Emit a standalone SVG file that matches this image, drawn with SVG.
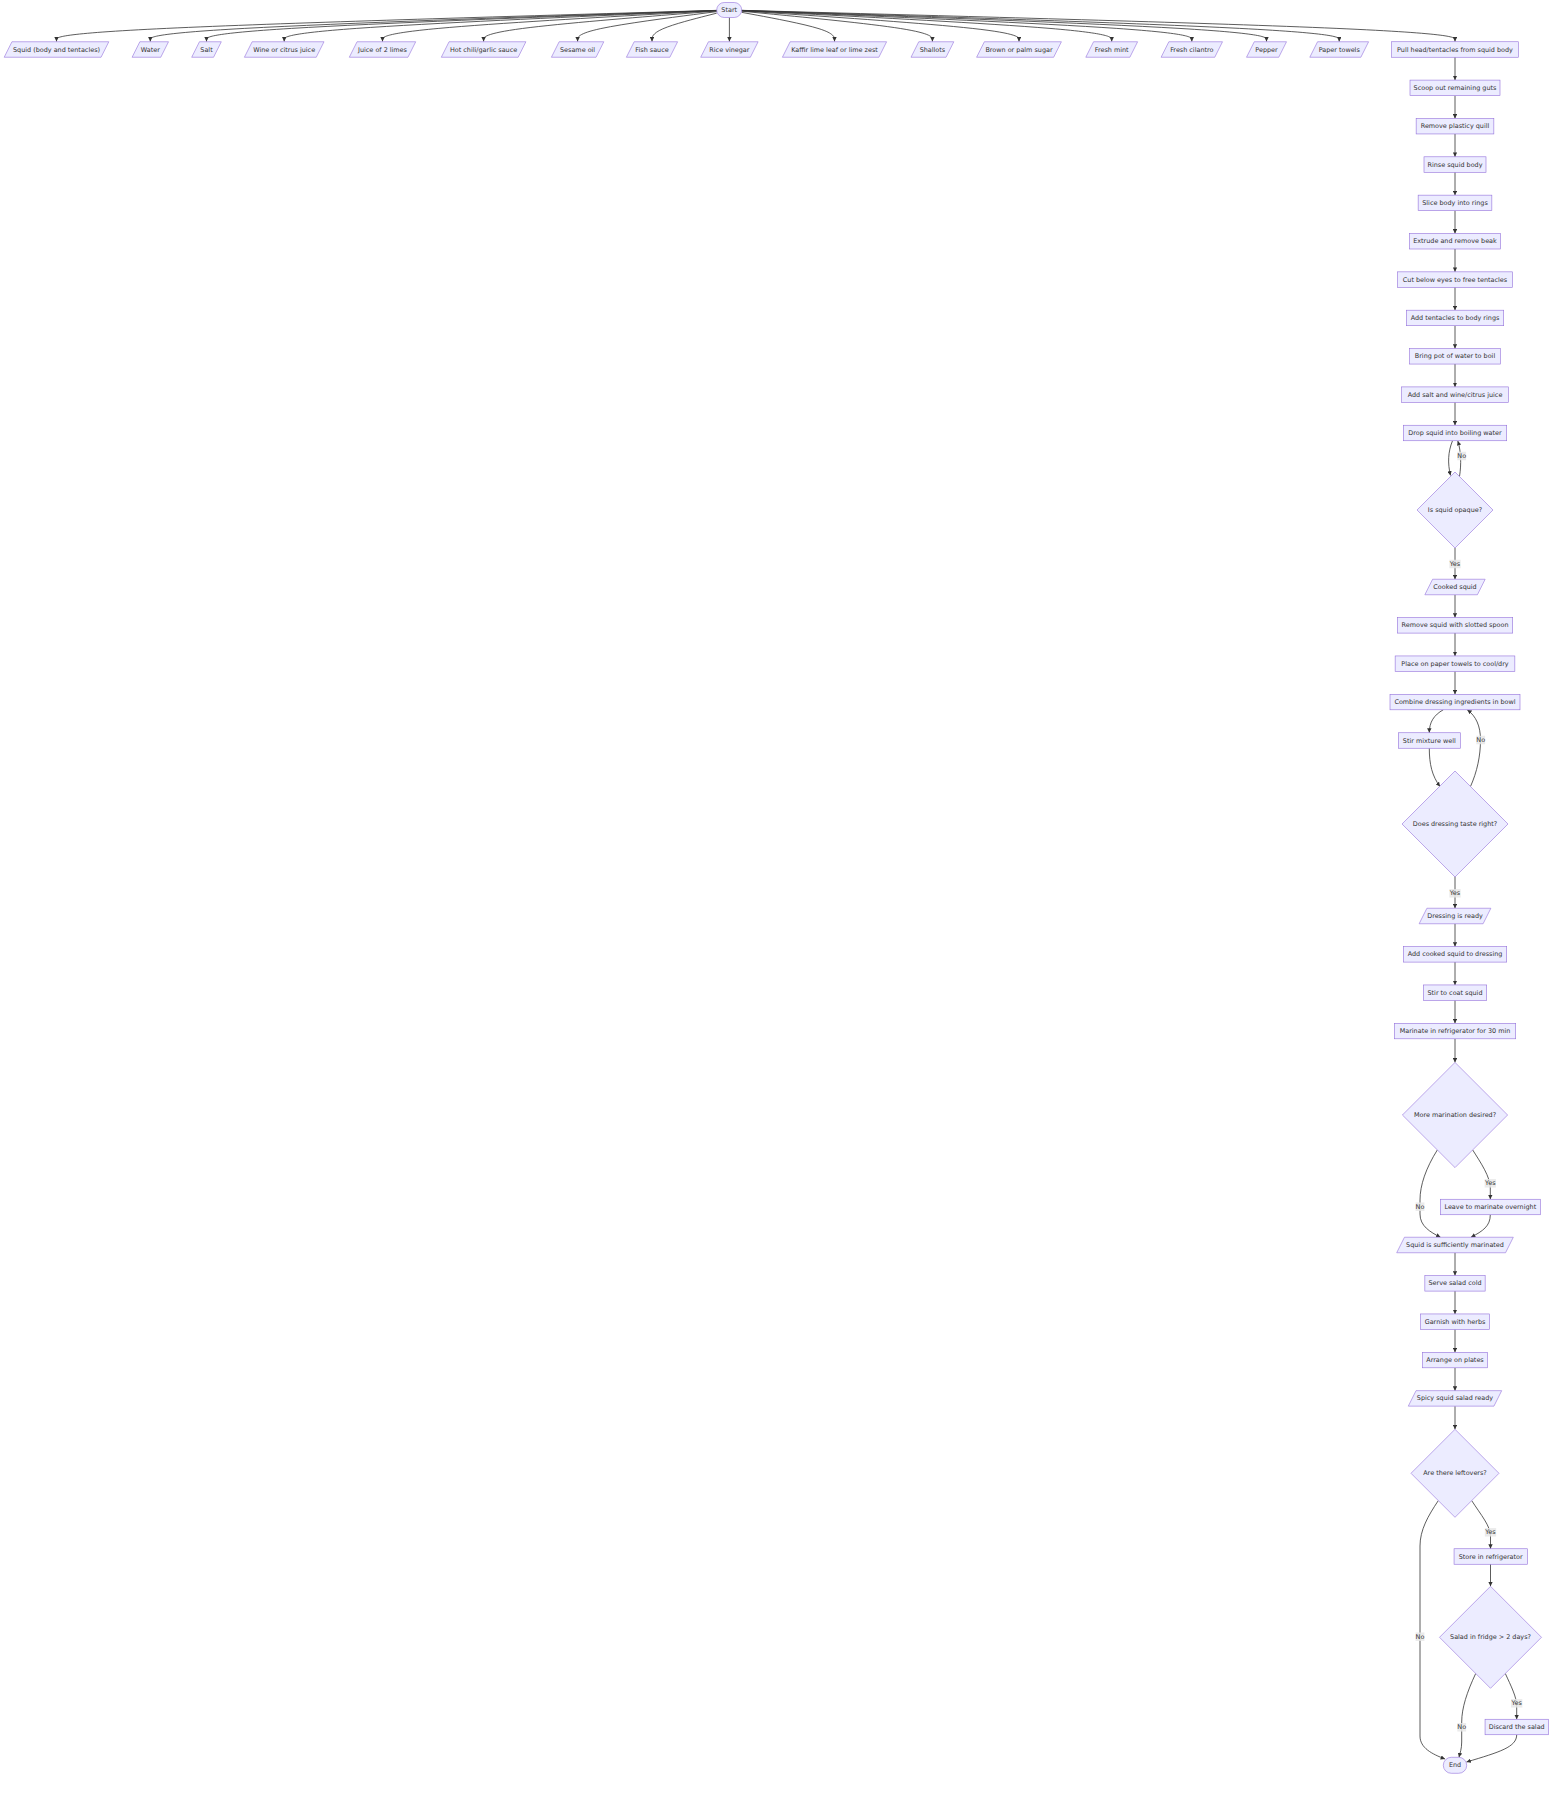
<svg xmlns="http://www.w3.org/2000/svg" width="1568" height="1796" viewBox="0 0 1568 1796">
<style>
.n rect,.n polygon{fill:#ECECFF;stroke:#9370DB;stroke-width:0.6}
text{font-family:"DejaVu Sans",Verdana,sans-serif;font-size:6.45px;fill:#333;text-anchor:middle;dominant-baseline:central}
.e path{fill:none;stroke:#333;stroke-width:0.8;marker-end:url(#arr)}
.lb rect{fill:#e8e8e8;opacity:0.85}
</style>
<defs>
<marker id="arr" viewBox="0 0 10 10" refX="10" refY="5" markerWidth="4.4" markerHeight="4.4" markerUnits="userSpaceOnUse" orient="auto"><path d="M0,0 L10,5 L0,10 z" fill="#333"/></marker>
</defs>
<rect width="1568" height="1796" fill="#fff"/>
<g id="connectors" class="e">
<path d="M716.7,10.36 L606.67,13.57 C496.63,16.77 276.57,23.19 166.53,28.38 C56.5,33.57 56.5,37.53 56.5,39.52 L56.5,41.5"/>
<path d="M716.7,10.42 L622.3,13.62 C527.9,16.81 339.1,23.21 244.7,28.39 C150.3,33.57 150.3,37.53 150.3,39.52 L150.3,41.5"/>
<path d="M716.7,10.47 L631.67,13.66 C546.63,16.85 376.57,23.22 291.53,28.4 C206.5,33.57 206.5,37.53 206.5,39.52 L206.5,41.5"/>
<path d="M716.7,10.55 L644.62,13.73 C572.53,16.9 428.37,23.25 356.28,28.41 C284.2,33.57 284.2,37.53 284.2,39.52 L284.2,41.5"/>
<path d="M716.7,10.71 L661,13.86 C605.3,17.01 493.9,23.3 438.2,28.44 C382.5,33.57 382.5,37.53 382.5,39.52 L382.5,41.5"/>
<path d="M716.7,11 L677.85,14.1 C639,17.2 561.3,23.4 522.45,28.48 C483.6,33.57 483.6,37.53 483.6,39.52 L483.6,41.5"/>
<path d="M716.7,11.62 L693.52,14.62 C670.33,17.61 623.97,23.61 600.78,28.59 C577.6,33.57 577.6,37.53 577.6,39.52 L577.6,41.5"/>
<path d="M716.7,13.17 L705.92,15.91 C695.13,18.65 673.57,24.12 662.78,28.85 C652,33.57 652,37.53 652,39.52 L652,41.5"/>
<path d="M729.4,17.5 L729.4,41.5"/>
<path d="M741.7,12.33 L757.17,15.21 C772.63,18.09 803.57,23.84 819.03,28.71 C834.5,33.57 834.5,37.53 834.5,39.52 L834.5,41.5"/>
<path d="M741.7,11.21 L773.48,14.28 C805.27,17.34 868.83,23.47 900.62,28.52 C932.4,33.57 932.4,37.53 932.4,39.52 L932.4,41.5"/>
<path d="M741.7,10.85 L787.92,13.98 C834.13,17.1 926.57,23.35 972.78,28.46 C1019,33.57 1019,37.53 1019,39.52 L1019,41.5"/>
<path d="M741.7,10.64 L803.37,13.8 C865.03,16.96 988.37,23.28 1050.03,28.42 C1111.7,33.57 1111.7,37.53 1111.7,39.52 L1111.7,41.5"/>
<path d="M741.7,10.53 L816.72,13.71 C891.73,16.89 1041.77,23.24 1116.78,28.41 C1191.8,33.57 1191.8,37.53 1191.8,39.52 L1191.8,41.5"/>
<path d="M741.7,10.46 L829.17,13.65 C916.63,16.84 1091.57,23.22 1179.03,28.39 C1266.5,33.57 1266.5,37.53 1266.5,39.52 L1266.5,41.5"/>
<path d="M741.7,10.4 L841.28,13.6 C940.87,16.8 1140.03,23.2 1239.62,28.38 C1339.2,33.57 1339.2,37.53 1339.2,39.52 L1339.2,41.5"/>
<path d="M741.7,10.34 L860.58,13.55 C979.47,16.76 1217.23,23.18 1336.12,28.37 C1455,33.57 1455,37.53 1455,39.52 L1455,41.5"/>
<path d="M1455,57.25 L1455,80.1"/>
<path d="M1455,95.6 L1455,118.45"/>
<path d="M1455,133.95 L1455,156.8"/>
<path d="M1455,172.3 L1455,195.15"/>
<path d="M1455,210.65 L1455,233.5"/>
<path d="M1455,249 L1455,271.85"/>
<path d="M1455,287.35 L1455,310.2"/>
<path d="M1455,325.7 L1455,348.55"/>
<path d="M1455,364.05 L1455,386.9"/>
<path d="M1455,402.4 L1455,425.25"/>
<path d="M1452.5,440.75 C1448,452 1447.5,463 1450.5,475.5"/>
<path d="M1459.5,476.5 C1461.5,464 1461,451 1457.8,441"/>
<path d="M1455,548 L1455,579.25"/>
<path d="M1455,594.75 L1455,617.6"/>
<path d="M1455,633.1 L1455,655.95"/>
<path d="M1455,671.45 L1455,694.3"/>
<path d="M1443.3,709.75 C1434,715 1429.3,722 1429.3,732.75"/>
<path d="M1429.3,748.25 C1429.3,764 1432,776 1440,786.5"/>
<path d="M1470.5,786.5 C1477,772 1480.5,756 1480.5,740 C1480.5,726 1476,716 1467.3,709.9"/>
<path d="M1455,876.5 L1455,908.25"/>
<path d="M1455,923.75 L1455,946.6"/>
<path d="M1455,962.1 L1455,984.95"/>
<path d="M1455,1000.45 L1455,1023.3"/>
<path d="M1455,1038.8 L1455,1062.4"/>
<path d="M1437.3,1150 C1426,1168 1420,1185 1420,1200 L1420,1214 C1420,1226 1430,1232 1440.5,1237.25"/>
<path d="M1472.7,1150 C1481,1163 1490.3,1177 1490.3,1188 L1490.3,1199.25"/>
<path d="M1490.3,1214.75 C1490.3,1226 1483,1231 1471,1237.25"/>
<path d="M1455,1252.75 L1455,1275.6"/>
<path d="M1455,1291.1 L1455,1313.95"/>
<path d="M1455,1329.45 L1455,1352.3"/>
<path d="M1455,1367.8 L1455,1390.65"/>
<path d="M1455,1406.15 L1455,1429.3"/>
<path d="M1438.3,1500.6 C1428,1516 1420,1530 1420,1546 L1420,1736 C1420,1748 1432,1754 1445,1759"/>
<path d="M1471.7,1500.6 C1481,1515 1490.5,1526 1490.5,1536 L1490.5,1548.75"/>
<path d="M1490.5,1564.25 L1490.5,1586.3"/>
<path d="M1475.7,1673.5 C1467,1692 1461.7,1708 1461.7,1722 L1461.7,1742 C1461.7,1749 1460,1753 1459,1757.3"/>
<path d="M1505.3,1673.5 C1511,1686 1516.7,1697 1516.7,1706 L1516.7,1719.25"/>
<path d="M1516.7,1734.75 C1516.7,1747 1500,1752 1466.5,1762"/>
</g>
<g id="edge-labels" class="lb">
<g><rect x="1457.3" y="451.75" width="8.8" height="8.5"/><text x="1461.7" y="456">No</text></g>
<g><rect x="1449.35" y="559.75" width="11.3" height="8.5"/><text x="1455" y="564">Yes</text></g>
<g><rect x="1476.3" y="735.75" width="8.8" height="8.5"/><text x="1480.7" y="740">No</text></g>
<g><rect x="1449.35" y="889.05" width="11.3" height="8.5"/><text x="1455" y="893.3">Yes</text></g>
<g><rect x="1415.6" y="1202.45" width="8.8" height="8.5"/><text x="1420" y="1206.7">No</text></g>
<g><rect x="1484.65" y="1179.05" width="11.3" height="8.5"/><text x="1490.3" y="1183.3">Yes</text></g>
<g><rect x="1415.6" y="1632.45" width="8.8" height="8.5"/><text x="1420" y="1636.7">No</text></g>
<g><rect x="1484.85" y="1528.05" width="11.3" height="8.5"/><text x="1490.5" y="1532.3">Yes</text></g>
<g><rect x="1457.3" y="1723.05" width="8.8" height="8.5"/><text x="1461.7" y="1727.3">No</text></g>
<g><rect x="1511.05" y="1699.05" width="11.3" height="8.5"/><text x="1516.7" y="1703.3">Yes</text></g>
</g>
<g id="start" class="n"><rect x="716.7" y="2.5" width="25" height="15" rx="7.5"/><text x="729.2" y="10">Start</text></g>
<g id="squid" class="n"><polygon points="11.95,41.75 108.8,41.75 101.05,57.25 4.2,57.25"/><text x="56.5" y="49.5">Squid (body and tentacles)</text></g>
<g id="water" class="n"><polygon points="139.85,41.75 168.5,41.75 160.75,57.25 132.1,57.25"/><text x="150.3" y="49.5">Water</text></g>
<g id="salt" class="n"><polygon points="199.45,41.75 221.3,41.75 213.55,57.25 191.7,57.25"/><text x="206.5" y="49.5">Salt</text></g>
<g id="wine" class="n"><polygon points="252.15,41.75 324,41.75 316.25,57.25 244.4,57.25"/><text x="284.2" y="49.5">Wine or citrus juice</text></g>
<g id="limes" class="n"><polygon points="357.05,41.75 415.7,41.75 407.95,57.25 349.3,57.25"/><text x="382.5" y="49.5">Juice of 2 limes</text></g>
<g id="chili" class="n"><polygon points="449.05,41.75 525.9,41.75 518.15,57.25 441.3,57.25"/><text x="483.6" y="49.5">Hot chili/garlic sauce</text></g>
<g id="sesame" class="n"><polygon points="559.15,41.75 603.8,41.75 596.05,57.25 551.4,57.25"/><text x="577.6" y="49.5">Sesame oil</text></g>
<g id="fish" class="n"><polygon points="634.15,41.75 677.6,41.75 669.85,57.25 626.4,57.25"/><text x="652" y="49.5">Fish sauce</text></g>
<g id="vinegar" class="n"><polygon points="708.45,41.75 758.1,41.75 750.35,57.25 700.7,57.25"/><text x="729.4" y="49.5">Rice vinegar</text></g>
<g id="kaffir" class="n"><polygon points="790.15,41.75 886.6,41.75 878.85,57.25 782.4,57.25"/><text x="834.5" y="49.5">Kaffir lime leaf or lime zest</text></g>
<g id="shallots" class="n"><polygon points="918.75,41.75 953.8,41.75 946.05,57.25 911,57.25"/><text x="932.4" y="49.5">Shallots</text></g>
<g id="sugar" class="n"><polygon points="984.35,41.75 1061.4,41.75 1053.65,57.25 976.6,57.25"/><text x="1019" y="49.5">Brown or palm sugar</text></g>
<g id="mint" class="n"><polygon points="1093.55,41.75 1137.6,41.75 1129.85,57.25 1085.8,57.25"/><text x="1111.7" y="49.5">Fresh mint</text></g>
<g id="cilantro" class="n"><polygon points="1168.85,41.75 1222.5,41.75 1214.75,57.25 1161.1,57.25"/><text x="1191.8" y="49.5">Fresh cilantro</text></g>
<g id="pepper" class="n"><polygon points="1254.25,41.75 1286.5,41.75 1278.75,57.25 1246.5,57.25"/><text x="1266.5" y="49.5">Pepper</text></g>
<g id="towels" class="n"><polygon points="1317.55,41.75 1368.6,41.75 1360.85,57.25 1309.8,57.25"/><text x="1339.2" y="49.5">Paper towels</text></g>
<g id="pull" class="n"><rect x="1391.7" y="41.75" width="126.6" height="15.5"/><text x="1455" y="49.5">Pull head/tentacles from squid body</text></g>
<g id="scoop" class="n"><rect x="1410" y="80.1" width="90" height="15.5"/><text x="1455" y="87.85">Scoop out remaining guts</text></g>
<g id="quill" class="n"><rect x="1416.15" y="118.45" width="77.7" height="15.5"/><text x="1455" y="126.2">Remove plasticy quill</text></g>
<g id="rinse" class="n"><rect x="1424" y="156.8" width="62" height="15.5"/><text x="1455" y="164.55">Rinse squid body</text></g>
<g id="slice" class="n"><rect x="1418.15" y="195.15" width="73.7" height="15.5"/><text x="1455" y="202.9">Slice body into rings</text></g>
<g id="beak" class="n"><rect x="1409.5" y="233.5" width="91" height="15.5"/><text x="1455" y="241.25">Extrude and remove beak</text></g>
<g id="cut" class="n"><rect x="1397.5" y="271.85" width="115" height="15.5"/><text x="1455" y="279.6">Cut below eyes to free tentacles</text></g>
<g id="addtent" class="n"><rect x="1406.3" y="310.2" width="97.4" height="15.5"/><text x="1455" y="317.95">Add tentacles to body rings</text></g>
<g id="boil" class="n"><rect x="1409.7" y="348.55" width="90.6" height="15.5"/><text x="1455" y="356.3">Bring pot of water to boil</text></g>
<g id="addsalt" class="n"><rect x="1401.7" y="386.9" width="106.6" height="15.5"/><text x="1455" y="394.65">Add salt and wine/citrus juice</text></g>
<g id="drop" class="n"><rect x="1403.3" y="425.25" width="103.4" height="15.5"/><text x="1455" y="433">Drop squid into boiling water</text></g>
<g id="opaque" class="n"><polygon points="1455,472 1493,510 1455,548 1417,510"/><text x="1455" y="510">Is squid opaque?</text></g>
<g id="cooked" class="n"><polygon points="1432.6,579.25 1485.15,579.25 1477.4,594.75 1424.85,594.75"/><text x="1455" y="587">Cooked squid</text></g>
<g id="remove" class="n"><rect x="1397.3" y="617.6" width="115.4" height="15.5"/><text x="1455" y="625.35">Remove squid with slotted spoon</text></g>
<g id="place" class="n"><rect x="1395.15" y="655.95" width="119.7" height="15.5"/><text x="1455" y="663.7">Place on paper towels to cool/dry</text></g>
<g id="combine" class="n"><rect x="1390" y="694.3" width="130" height="15.5"/><text x="1455" y="702.05">Combine dressing ingredients in bowl</text></g>
<g id="stirmix" class="n"><rect x="1398.3" y="732.75" width="62" height="15.5"/><text x="1429.3" y="740.5">Stir mixture well</text></g>
<g id="taste" class="n"><polygon points="1455,771 1508,824 1455,877 1402,824"/><text x="1455" y="824">Does dressing taste right?</text></g>
<g id="dressready" class="n"><polygon points="1426.9,908.25 1490.85,908.25 1483.1,923.75 1419.15,923.75"/><text x="1455" y="916">Dressing is ready</text></g>
<g id="addsquid" class="n"><rect x="1403.3" y="946.6" width="103.4" height="15.5"/><text x="1455" y="954.35">Add cooked squid to dressing</text></g>
<g id="stircoat" class="n"><rect x="1423.3" y="984.95" width="63.4" height="15.5"/><text x="1455" y="992.7">Stir to coat squid</text></g>
<g id="marinate" class="n"><rect x="1394.3" y="1023.3" width="121.4" height="15.5"/><text x="1455" y="1031.05">Marinate in refrigerator for 30 min</text></g>
<g id="more" class="n"><polygon points="1455,1062.4 1507.6,1115 1455,1167.6 1402.4,1115"/><text x="1455" y="1115">More marination desired?</text></g>
<g id="overnight" class="n"><rect x="1440.3" y="1199.25" width="100" height="15.5"/><text x="1490.3" y="1207">Leave to marinate overnight</text></g>
<g id="sufficient" class="n"><polygon points="1404.45,1237.25 1513.3,1237.25 1505.55,1252.75 1396.7,1252.75"/><text x="1455" y="1245">Squid is sufficiently marinated</text></g>
<g id="serve" class="n"><rect x="1424.85" y="1275.6" width="60.3" height="15.5"/><text x="1455" y="1283.35">Serve salad cold</text></g>
<g id="garnish" class="n"><rect x="1420.5" y="1313.95" width="69" height="15.5"/><text x="1455" y="1321.7">Garnish with herbs</text></g>
<g id="arrange" class="n"><rect x="1422.5" y="1352.3" width="65" height="15.5"/><text x="1455" y="1360.05">Arrange on plates</text></g>
<g id="ready" class="n"><polygon points="1416.05,1390.65 1501.7,1390.65 1493.95,1406.15 1408.3,1406.15"/><text x="1455" y="1398.4">Spicy squid salad ready</text></g>
<g id="leftovers" class="n"><polygon points="1455,1429.3 1499,1473.3 1455,1517.3 1411,1473.3"/><text x="1455" y="1473.3">Are there leftovers?</text></g>
<g id="store" class="n"><rect x="1454.05" y="1548.75" width="73.3" height="15.5"/><text x="1490.7" y="1556.5">Store in refrigerator</text></g>
<g id="twodays" class="n"><polygon points="1490.5,1586.3 1541.5,1637.3 1490.5,1688.3 1439.5,1637.3"/><text x="1490.5" y="1637.3">Salad in fridge &gt; 2 days?</text></g>
<g id="discard" class="n"><rect x="1485.05" y="1719.25" width="63.3" height="15.5"/><text x="1516.7" y="1727">Discard the salad</text></g>
<g id="end" class="n"><rect x="1443.3" y="1757.3" width="23.4" height="16" rx="8"/><text x="1455" y="1765.3">End</text></g>
</svg>
